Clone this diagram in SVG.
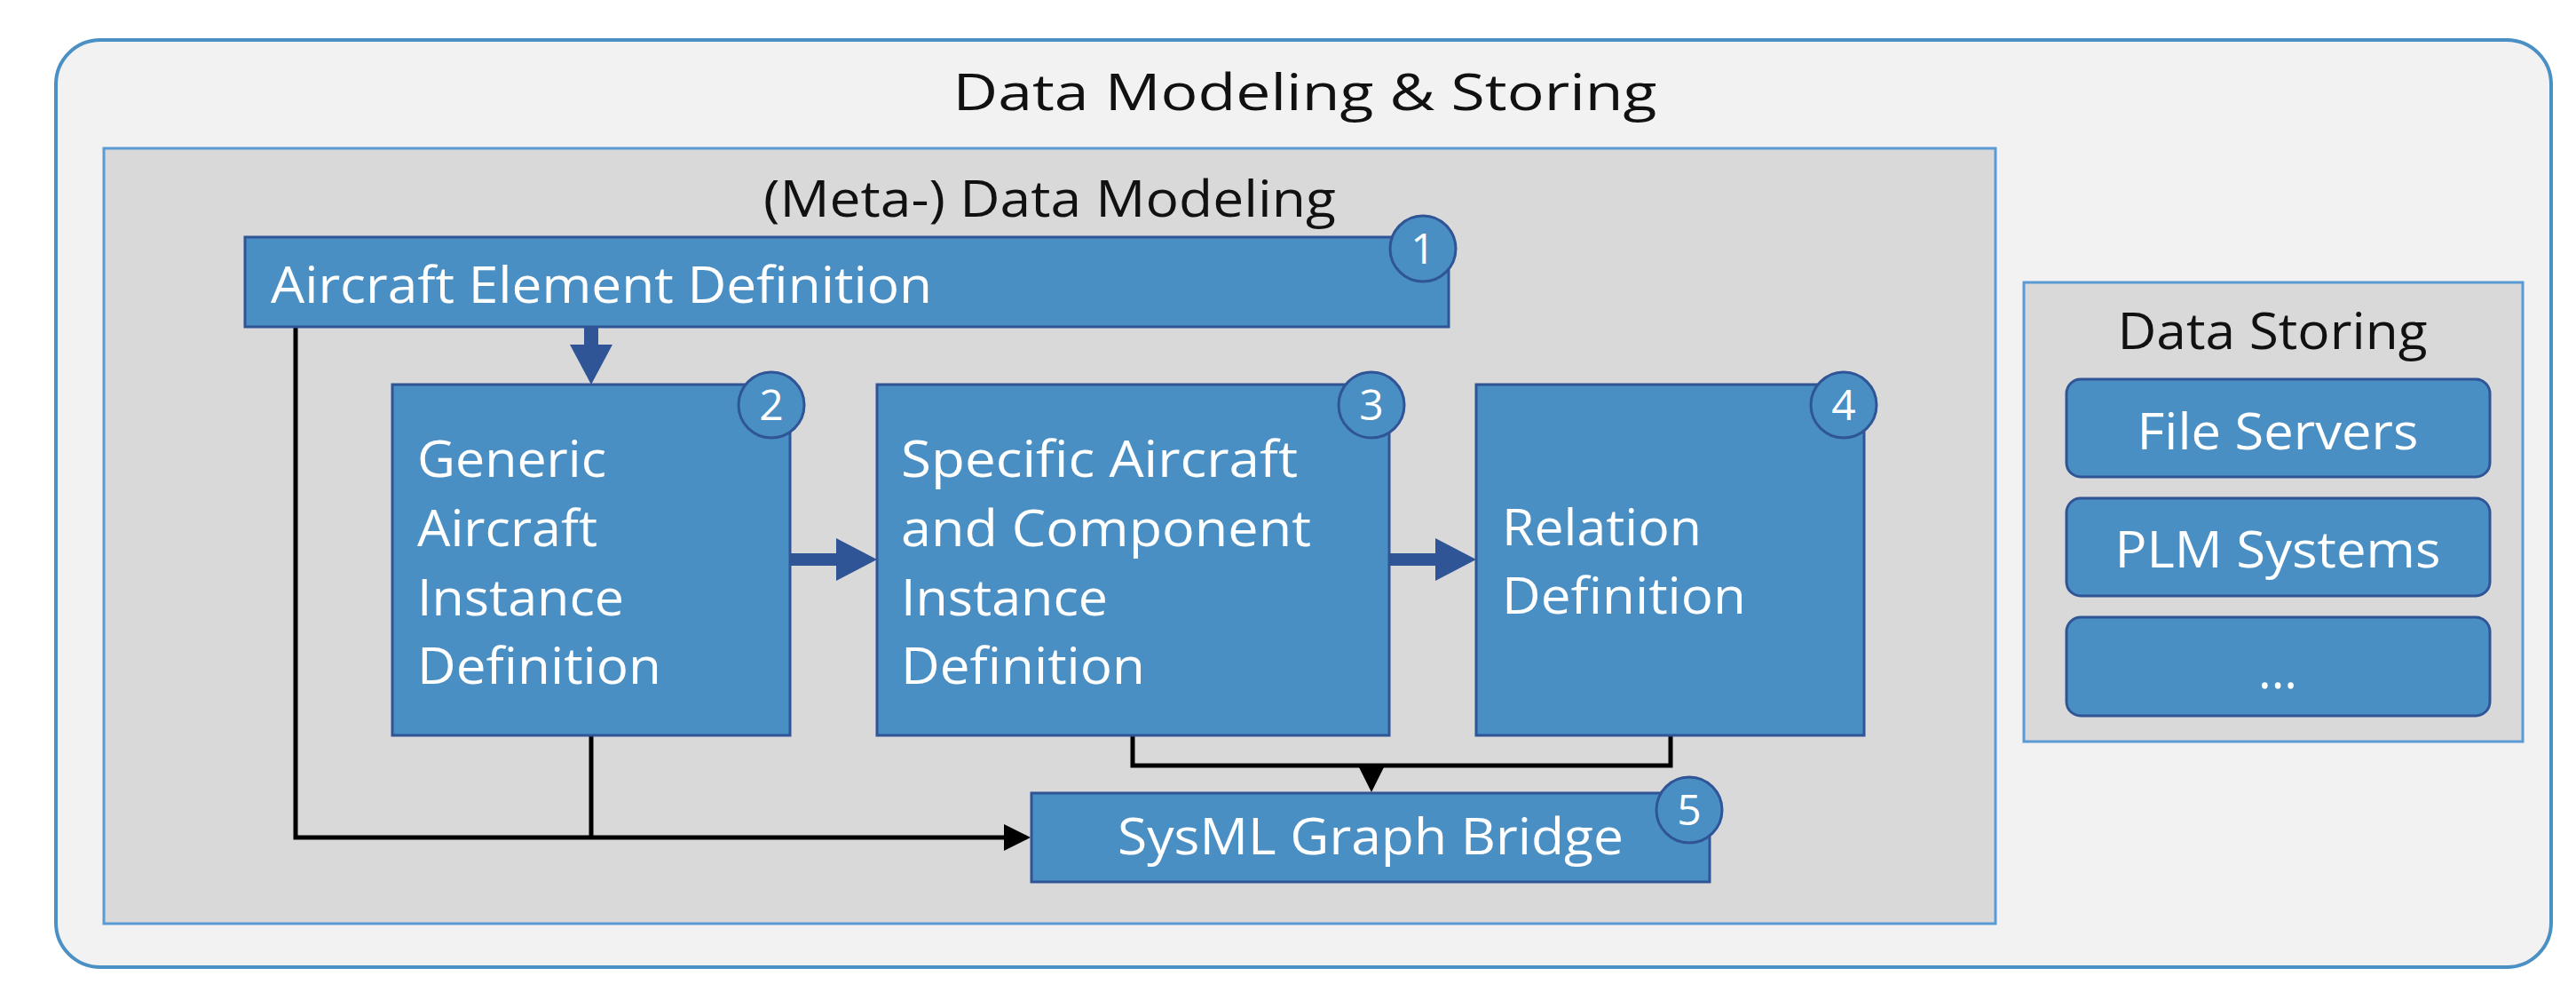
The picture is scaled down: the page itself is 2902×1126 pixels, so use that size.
<svg xmlns="http://www.w3.org/2000/svg" width="2902" height="1126" viewBox="0 0 2902 1126">
<style>
.t{font-family:"Open Sans","DejaVu Sans",sans-serif;font-size:56px;fill:#fff}
.d{font-family:"Open Sans","DejaVu Sans",sans-serif;font-size:56px;fill:#111}
.b{fill:#4A8FC4;stroke:#2F5597;stroke-width:3}
.c{fill:#4A8FC4;stroke:#2F5597;stroke-width:3}
.n{font-family:"Open Sans","DejaVu Sans",sans-serif;font-size:48px;fill:#fff;text-anchor:middle}
.k{fill:none;stroke:#000;stroke-width:5}
</style>
<defs>
<marker id="ah" markerWidth="6" markerHeight="6" refX="5" refY="3" orient="auto" markerUnits="strokeWidth"><path d="M0,0 L6,3 L0,6 Z" fill="#000"/></marker>
</defs>
<g id="outer"><rect x="63" y="45" width="2811" height="1044" rx="50" fill="#F2F2F2" stroke="#4A90C4" stroke-width="4"/>
<text class="d" x="1470" y="124" font-size="64" text-anchor="middle" textLength="793" lengthAdjust="spacingAndGlyphs">Data Modeling &amp; Storing</text></g>
<g id="meta"><rect x="117" y="167" width="2131" height="873" fill="#D9D9D9" stroke="#5B9BD5" stroke-width="3"/>
<text class="d" x="860" y="244" textLength="645" lengthAdjust="spacingAndGlyphs">(Meta-) Data Modeling</text></g>
<g id="connectors">
<path d="M658,368 V388 H642 L666,433 L690,388 H674 V368 Z" fill="#2F5597"/>
<path d="M890,623 H942 V606 L988,630 L942,654 V637 H890 Z" fill="#2F5597"/>
<path d="M1565,623 H1617 V606 L1663,630 L1617,654 V637 H1565 Z" fill="#2F5597"/>
<path class="k" d="M333,368 V943 H1156" marker-end="url(#ah)"/>
<path class="k" d="M666,828 V943"/>
<path class="k" d="M1276,828 V862 H1882 V828"/>
<path class="k" d="M1545,862 V887" marker-end="url(#ah)"/>
</g>
<g id="n1"><rect class="b" x="276" y="267" width="1356" height="101"/>
<text class="t" x="305" y="341" textLength="745" lengthAdjust="spacingAndGlyphs">Aircraft Element Definition</text>
<circle class="c" cx="1603" cy="280" r="37"/><text class="n" x="1603" y="297">1</text></g>
<g id="n2"><rect class="b" x="442" y="433" width="448" height="395"/>
<text class="t" x="470" y="537" textLength="213" lengthAdjust="spacingAndGlyphs">Generic</text>
<text class="t" x="470" y="615" textLength="203" lengthAdjust="spacingAndGlyphs">Aircraft</text>
<text class="t" x="470" y="693" textLength="233" lengthAdjust="spacingAndGlyphs">Instance</text>
<text class="t" x="470" y="770" textLength="275" lengthAdjust="spacingAndGlyphs">Definition</text>
<circle class="c" cx="869" cy="456" r="37"/><text class="n" x="869" y="473">2</text></g>
<g id="n3"><rect class="b" x="988" y="433" width="577" height="395"/>
<text class="t" x="1015" y="537" textLength="447" lengthAdjust="spacingAndGlyphs">Specific Aircraft</text>
<text class="t" x="1015" y="615" textLength="462" lengthAdjust="spacingAndGlyphs">and Component</text>
<text class="t" x="1015" y="693" textLength="233" lengthAdjust="spacingAndGlyphs">Instance</text>
<text class="t" x="1015" y="770" textLength="275" lengthAdjust="spacingAndGlyphs">Definition</text>
<circle class="c" cx="1545" cy="456" r="37"/><text class="n" x="1545" y="473">3</text></g>
<g id="n4"><rect class="b" x="1663" y="433" width="437" height="395"/>
<text class="t" x="1692" y="614" textLength="225" lengthAdjust="spacingAndGlyphs">Relation</text>
<text class="t" x="1692" y="691" textLength="275" lengthAdjust="spacingAndGlyphs">Definition</text>
<circle class="c" cx="2077" cy="456" r="37"/><text class="n" x="2077" y="473">4</text></g>
<g id="n5"><rect class="b" x="1162" y="893" width="764" height="100"/>
<text class="t" x="1544" y="962" text-anchor="middle" textLength="570" lengthAdjust="spacingAndGlyphs">SysML Graph Bridge</text>
<circle class="c" cx="1903" cy="912" r="37"/><text class="n" x="1903" y="929">5</text></g>
<g id="storing"><rect x="2280" y="318" width="562" height="517" fill="#D9D9D9" stroke="#5B9BD5" stroke-width="3"/>
<text class="d" x="2560" y="393" text-anchor="middle" textLength="349" lengthAdjust="spacingAndGlyphs">Data Storing</text></g>
<g id="s1"><rect class="b" x="2328" y="427" width="477" height="110" rx="16"/>
<text class="t" x="2566" y="506" text-anchor="middle" textLength="317" lengthAdjust="spacingAndGlyphs">File Servers</text></g>
<g id="s2"><rect class="b" x="2328" y="561" width="477" height="110" rx="16"/>
<text class="t" x="2566" y="639" text-anchor="middle" textLength="367" lengthAdjust="spacingAndGlyphs">PLM Systems</text></g>
<g id="s3"><rect class="b" x="2328" y="695" width="477" height="111" rx="16"/>
<text class="t" x="2566" y="775" text-anchor="middle">...</text></g>
</svg>
